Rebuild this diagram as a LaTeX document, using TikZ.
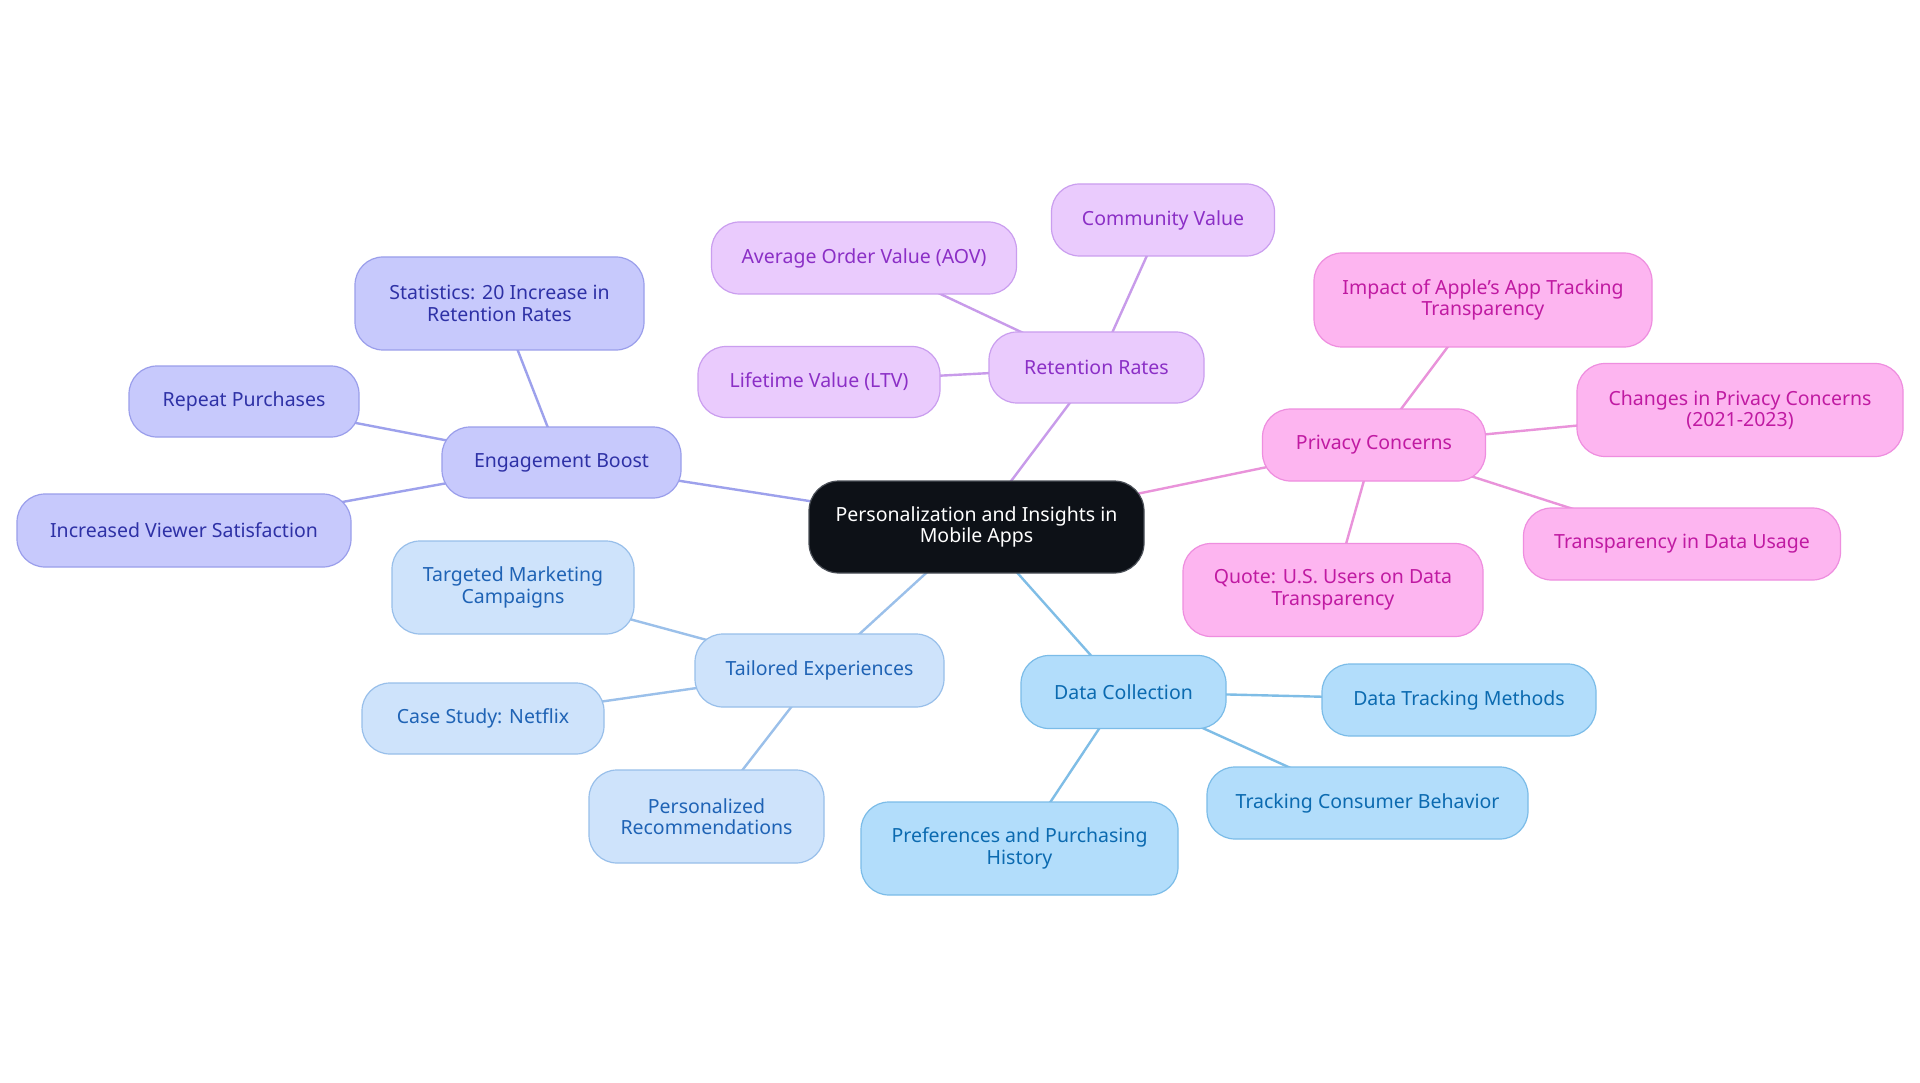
\documentclass[tikz,border=0pt]{standalone}
\usepackage{fontspec}
\setmainfont{Noto Sans}
\usetikzlibrary{backgrounds}
\definecolor{cfill}{HTML}{0D1117}
\definecolor{cbord}{HTML}{4A4F57}
\definecolor{efill}{HTML}{C7C9FC}
\definecolor{ebord}{HTML}{9A9EEB}
\definecolor{etext}{HTML}{2E31A6}
\definecolor{eline}{HTML}{9DA1EC}
\definecolor{rfill}{HTML}{EACBFD}
\definecolor{rbord}{HTML}{CA9EEF}
\definecolor{rtext}{HTML}{8B2FC6}
\definecolor{rline}{HTML}{C89BEA}
\definecolor{pfill}{HTML}{FDB5F0}
\definecolor{pbord}{HTML}{EE8EDF}
\definecolor{ptext}{HTML}{C01AA2}
\definecolor{pline}{HTML}{E993DA}
\definecolor{tfill}{HTML}{CEE3FB}
\definecolor{tbord}{HTML}{98BFEA}
\definecolor{ttext}{HTML}{1F63B5}
\definecolor{tline}{HTML}{9BC0EA}
\definecolor{dfill}{HTML}{B2DDFB}
\definecolor{dbord}{HTML}{7BBCE8}
\definecolor{dtext}{HTML}{0B6AB0}
\definecolor{dline}{HTML}{7FBDE6}
\tikzset{
  x=1pt,y=-1pt,
  box/.style={rounded corners=28pt, align=center, inner sep=0pt, line width=1.2pt,
    font=\fontsize{19.5}{21.5}\selectfont},
  bE/.style={box, fill=efill, draw=ebord, text=etext},
  bR/.style={box, fill=rfill, draw=rbord, text=rtext},
  bP/.style={box, fill=pfill, draw=pbord, text=ptext},
  bT/.style={box, fill=tfill, draw=tbord, text=ttext},
  bD/.style={box, fill=dfill, draw=dbord, text=dtext},
  sz/.style args={#1x#2}{minimum width=#1pt, minimum height=#2pt},
  conn/.style={line width=2.4pt},
}
\begin{document}
\begin{tikzpicture}
\useasboundingbox (0,0) rectangle (1920,1083);
% center
\node[box, fill=cfill, draw=cbord, text=white, sz=335x92, rounded corners=30pt] (c) at (976.5,527) {Personalization and Insights in\\Mobile Apps};
% engagement
\node[bE, sz=239x71] (eng) at (561.5,462.5) {Engagement Boost};
\node[bE, sz=289x93] (stat) at (499.5,303.5) {Statistics: 20 Increase in\\Retention Rates};
\node[bE, sz=230x71] (rep) at (244,401.5) {Repeat Purchases};
\node[bE, sz=334x73] (ivs) at (184,530.5) {Increased Viewer Satisfaction};
% retention
\node[bR, sz=215x71] (ret) at (1096.5,367.5) {Retention Rates};
\node[bR, sz=223x72] (com) at (1163,220) {Community Value};
\node[bR, sz=305x72] (aov) at (864,258) {Average Order Value (AOV)};
\node[bR, sz=242x71] (ltv) at (819,382) {Lifetime Value (LTV)};
% privacy
\node[bP, sz=223x72] (pc) at (1374,445) {Privacy Concerns};
\node[bP, sz=338x94] (app) at (1483,300) {Impact of Apple's App Tracking\\Transparency};
\node[bP, sz=326x93] (chg) at (1740,410) {Changes in Privacy Concerns\\(2021-2023)};
\node[bP, sz=317x72] (tdu) at (1682,544) {Transparency in Data Usage};
\node[bP, sz=300x93] (quo) at (1333,590) {Quote: U.S. Users on Data\\Transparency};
% data collection
\node[bD, sz=205x73] (dc) at (1123.5,692) {Data Collection};
\node[bD, sz=274x72] (dtm) at (1459,700) {Data Tracking Methods};
\node[bD, sz=321x72] (tcb) at (1367.5,803) {Tracking Consumer Behavior};
\node[bD, sz=317x93] (pph) at (1019.5,848.5) {Preferences and Purchasing\\History};
% tailored
\node[bT, sz=249x73] (te) at (819.5,670.5) {Tailored Experiences};
\node[bT, sz=242x93] (tmc) at (513,587.5) {Targeted Marketing\\Campaigns};
\node[bT, sz=242x71] (cs) at (483,718.5) {Case Study: Netflix};
\node[bT, sz=235x93] (pr) at (706.5,816.5) {Personalized\\Recommendations};
\begin{pgfonlayer}{background}
\fill[white] (0,0) rectangle (1920,1083);
\draw[conn, draw=eline] (c.center) -- (eng.center);
\draw[conn, draw=eline] (eng.center) -- (stat.center);
\draw[conn, draw=eline] (eng.center) -- (rep.center);
\draw[conn, draw=eline] (eng.center) -- (ivs.center);
\draw[conn, draw=rline] (c.center) -- (ret.center);
\draw[conn, draw=rline] (ret.center) -- (com.center);
\draw[conn, draw=rline] (ret.center) -- (aov.center);
\draw[conn, draw=rline] (ret.center) -- (ltv.center);
\draw[conn, draw=pline] (c.center) -- (pc.center);
\draw[conn, draw=pline] (pc.center) -- (app.center);
\draw[conn, draw=pline] (pc.center) -- (chg.center);
\draw[conn, draw=pline] (pc.center) -- (tdu.center);
\draw[conn, draw=pline] (pc.center) -- (quo.center);
\draw[conn, draw=dline] (c.center) -- (dc.center);
\draw[conn, draw=dline] (dc.center) -- (dtm.center);
\draw[conn, draw=dline] (dc.center) -- (tcb.center);
\draw[conn, draw=dline] (dc.center) -- (pph.center);
\draw[conn, draw=tline] (c.center) -- (te.center);
\draw[conn, draw=tline] (te.center) -- (tmc.center);
\draw[conn, draw=tline] (te.center) -- (cs.center);
\draw[conn, draw=tline] (te.center) -- (pr.center);
\end{pgfonlayer}
\end{tikzpicture}
\end{document}
